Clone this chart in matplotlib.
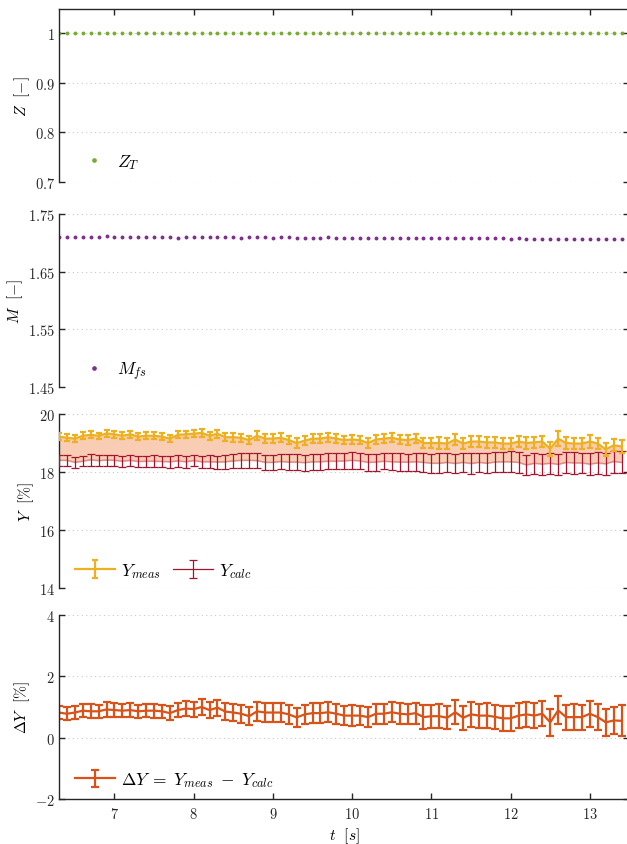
import matplotlib
matplotlib.use("Agg")
import matplotlib.pyplot as plt
import numpy as np

plt.rcParams['mathtext.fontset'] = 'cm'
plt.rcParams['font.family'] = ['cmr10', 'DejaVu Serif']
plt.rcParams['axes.formatter.use_mathtext'] = True

t = [6.3, 6.4, 6.5, 6.6, 6.7, 6.8, 6.9, 7.0, 7.1, 7.2, 7.3, 7.4, 7.5, 7.6, 7.7, 7.8, 7.9, 8.0,
     8.1, 8.2, 8.3, 8.4, 8.5, 8.6, 8.7, 8.8, 8.9, 9.0, 9.1, 9.2, 9.3, 9.4, 9.5, 9.6, 9.7, 9.8,
     9.9, 10.0, 10.1, 10.2, 10.3, 10.4, 10.5, 10.6, 10.7, 10.8, 10.9, 11.0, 11.1, 11.2, 11.3,
     11.4, 11.5, 11.6, 11.7, 11.8, 11.9, 12.0, 12.1, 12.2, 12.3, 12.4, 12.5, 12.6, 12.7, 12.8,
     12.9, 13.0, 13.1, 13.2, 13.3, 13.4]

Z_T = [1.0, 1.0, 1.0, 1.0, 1.0, 1.0, 1.0, 1.0, 1.0, 1.0, 1.0, 1.0, 1.0, 1.0, 1.0, 1.0, 1.0, 1.0,
       1.0, 1.0, 1.0, 1.0, 1.0, 1.0, 1.0, 1.0, 1.0, 1.0, 1.0, 1.0, 1.0, 1.0, 1.0, 1.0, 1.0, 1.0,
       1.0, 1.0, 1.0, 1.0, 1.0, 1.0, 1.0, 1.0, 1.0, 1.0, 1.0, 1.0, 1.0, 1.0, 1.0, 1.0, 1.0, 1.0,
       1.0, 1.0, 1.0, 1.0, 1.0, 1.0, 1.0, 1.0, 1.0, 1.0, 1.0, 1.0, 1.0, 1.0, 1.0, 1.0, 1.0, 1.0]

M_fs = [1.7105, 1.7105, 1.7098, 1.7105, 1.7108, 1.7105, 1.7110, 1.7102, 1.7098, 1.7108, 1.7102,
        1.7100, 1.7105, 1.7100, 1.7102, 1.7092, 1.7095, 1.7098, 1.7098, 1.7098, 1.7095,
        1.7098, 1.7095, 1.7092, 1.7095, 1.7098, 1.7095, 1.7090, 1.7095, 1.7098, 1.7090,
        1.7092, 1.7092, 1.7090, 1.7095, 1.7092, 1.7088, 1.7092, 1.7090, 1.7088, 1.7092,
        1.7088, 1.7085, 1.7090, 1.7088, 1.7085, 1.7088, 1.7082, 1.7085, 1.7088, 1.7082,
        1.7085, 1.7080, 1.7082, 1.7078, 1.7082, 1.7078, 1.7075, 1.7080, 1.7075, 1.7072,
        1.7068, 1.7072, 1.7068, 1.7070, 1.7072, 1.7068, 1.7070, 1.7065, 1.7068, 1.7065, 1.7068]

Y_meas = [19.22, 19.18, 19.15, 19.25, 19.28, 19.25, 19.33, 19.30, 19.25, 19.30, 19.22, 19.25,
          19.25, 19.22, 19.15, 19.28, 19.30, 19.32, 19.35, 19.25, 19.32, 19.20, 19.20, 19.18,
          19.10, 19.25, 19.15, 19.15, 19.18, 19.10, 19.00, 19.08, 19.15, 19.15, 19.20, 19.15,
          19.10, 19.12, 19.10, 19.00, 19.12, 19.15, 19.18, 19.12, 19.10, 19.15, 19.00, 19.00,
          19.00, 18.98, 19.12, 18.98, 19.05, 19.05, 19.02, 19.02, 18.98, 18.98, 19.05, 19.00,
          19.02, 19.05, 18.80, 19.15, 19.00, 18.98, 18.98, 19.05, 18.98, 18.78, 18.92, 18.88]

Y_meas_err = [0.11, 0.12, 0.11, 0.12, 0.12, 0.11, 0.13, 0.12, 0.12, 0.12, 0.11, 0.12, 0.12, 0.12,
              0.12, 0.12, 0.13, 0.13, 0.14, 0.13, 0.14,
              0.14, 0.15, 0.14, 0.15, 0.16, 0.15, 0.15, 0.15, 0.15, 0.16, 0.15, 0.15, 0.15, 0.16,
              0.15, 0.15, 0.16, 0.15, 0.16, 0.15, 0.16, 0.16, 0.15, 0.16, 0.16,
              0.18, 0.18, 0.19, 0.18, 0.20, 0.18, 0.19, 0.19, 0.19, 0.19, 0.20, 0.19, 0.20, 0.20,
              0.20, 0.20, 0.24, 0.26, 0.20, 0.20, 0.20, 0.21, 0.20, 0.22, 0.21, 0.21]

Y_calc = [18.40, 18.40, 18.33, 18.37, 18.42, 18.39, 18.41, 18.40, 18.37, 18.40, 18.36, 18.37,
          18.37, 18.36, 18.35, 18.38, 18.35, 18.39, 18.35, 18.35, 18.34, 18.35, 18.38, 18.40,
          18.40, 18.39, 18.33, 18.33, 18.36, 18.34, 18.34, 18.32, 18.35, 18.35, 18.37, 18.37,
          18.38, 18.40, 18.38, 18.33, 18.34, 18.37, 18.35, 18.34, 18.34, 18.35, 18.33, 18.30,
          18.30, 18.33, 18.29, 18.33, 18.29, 18.33, 18.30, 18.34, 18.35, 18.35, 18.33, 18.24,
          18.30, 18.27, 18.30, 18.26, 18.33, 18.31, 18.31, 18.27, 18.31, 18.28, 18.36, 18.33]

Y_calc_err = [0.18, 0.19, 0.19, 0.18, 0.20, 0.19, 0.19, 0.20, 0.19, 0.20, 0.19, 0.19, 0.20, 0.19,
              0.20, 0.20, 0.21, 0.20, 0.21, 0.22, 0.22,
              0.24, 0.25, 0.26, 0.25, 0.26, 0.27, 0.26, 0.27, 0.27, 0.28, 0.27, 0.28, 0.28, 0.27,
              0.28, 0.28, 0.29, 0.28, 0.29, 0.29, 0.28, 0.29, 0.30, 0.29, 0.30,
              0.33, 0.33, 0.34, 0.33, 0.34, 0.34, 0.35, 0.34, 0.35, 0.35, 0.35, 0.36, 0.35, 0.36,
              0.36, 0.36, 0.37, 0.37, 0.36, 0.37, 0.36, 0.37, 0.37, 0.37, 0.38, 0.38]

dY = [0.82, 0.78, 0.82, 0.88, 0.86, 0.86, 0.92, 0.90, 0.88, 0.90, 0.86, 0.88, 0.88, 0.86, 0.80,
      0.90, 0.95, 0.93, 1.00, 0.90, 0.98, 0.85, 0.82, 0.78, 0.70, 0.86, 0.82, 0.82, 0.82, 0.76,
      0.66, 0.76, 0.80, 0.80, 0.83, 0.78, 0.72, 0.72, 0.72, 0.67, 0.78, 0.78, 0.83, 0.78, 0.76,
      0.80, 0.67, 0.70, 0.70, 0.65, 0.83, 0.65, 0.76, 0.72, 0.72, 0.68, 0.63, 0.63, 0.72, 0.76,
      0.72, 0.78, 0.50, 0.89, 0.67, 0.67, 0.67, 0.78, 0.67, 0.50, 0.56, 0.55]

dY_err = [0.21, 0.22, 0.22, 0.22, 0.23, 0.22, 0.23, 0.23, 0.22, 0.23, 0.22, 0.22, 0.23, 0.22,
          0.23, 0.23, 0.24, 0.24, 0.25, 0.25, 0.26,
          0.28, 0.29, 0.30, 0.29, 0.31, 0.31, 0.30, 0.31, 0.31, 0.32, 0.31, 0.32, 0.32, 0.32,
          0.32, 0.32, 0.33, 0.32, 0.33, 0.33, 0.33, 0.33, 0.34, 0.33, 0.34,
          0.38, 0.38, 0.39, 0.38, 0.40, 0.39, 0.40, 0.39, 0.40, 0.40, 0.40, 0.41, 0.41, 0.41,
          0.41, 0.41, 0.44, 0.46, 0.41, 0.42, 0.41, 0.42, 0.42, 0.44, 0.43, 0.50]

xticks = [7, 8, 9, 10, 11, 12, 13]
z_ticks = [0.7, 0.8, 0.9, 1.0]
z_ticklabels = ['0.7', '0.8', '0.9', '1']
m_ticks = [1.45, 1.55, 1.65, 1.75]
m_ticklabels = ['1.45', '1.55', '1.65', '1.75']
y_ticks = [14, 16, 18, 20]
y_ticklabels = ['14', '16', '18', '20']
d_ticks = [-2, 0, 2, 4]
d_ticklabels = ['-2', '0', '2', '4']

C_Z = '#77AC30'
C_M = '#7E2F8E'
C_YM = '#EDB120'
C_YC = '#A2142F'
C_D = '#D95319'
C_FILL = '#F9CDB4'

W, H = 627, 845
fig = plt.figure(figsize=(W / 100, H / 100), dpi=100)

left = 59 / W
width = (629.5 - 59) / W


def mk(top, bot):
    return fig.add_axes([left, 1 - bot / H, width, (bot - top) / H])


ax1 = mk(10, 183)
ax2 = mk(215, 388)
ax3 = mk(415, 589)
ax4 = mk(616, 800)

TICKFS = 10.4
LEGFS = 12.5
LABFS = 11.2
LABPAD = 2.0

for ax in (ax1, ax2, ax3, ax4):
    ax.set_xlim(6.3, 13.5)
    ax.grid(axis='y', linestyle=(0, (1, 3)), color='#c8c8c8', linewidth=0.8)
    ax.set_axisbelow(True)
    for s in ax.spines.values():
        s.set_visible(False)
    ax.spines['left'].set_visible(True)
    ax.spines['left'].set_linewidth(1.0)
    ax.spines['left'].set_color('#262626')
    ax.tick_params(axis='y', which='both', direction='in', length=4, width=1.0,
                   left=True, right=True, labelsize=TICKFS, pad=3, colors='#262626')
    ax.tick_params(axis='x', direction='in', length=4, width=1.0, colors='#262626',
                   bottom=False, top=False, labelbottom=False, labelsize=TICKFS)
    ax.set_xticks(xticks)

# Panel 1
ax1.spines['top'].set_visible(True)
ax1.spines['top'].set_linewidth(1.0)
ax1.spines['top'].set_color('#262626')
ax1.tick_params(axis='x', top=True)
ax1.set_ylim(0.7, 1.048)
ax1.set_yticks(z_ticks)
ax1.set_yticklabels(['$' + s + '$' for s in z_ticklabels])
ax1.plot(t, Z_T, linestyle='none', marker='o', ms=2.8, mec='none', color=C_Z, label='$Z_T$')
ax1.set_ylabel(r'$Z\ \ [-]$', fontsize=LABFS, labelpad=LABPAD)
ax1.legend(loc='lower left', bbox_to_anchor=(0.01, -0.025), frameon=False, fontsize=LEGFS,
           handlelength=1.6, handletextpad=0.5, markerscale=1.2)

# Panel 2
ax2.set_ylim(1.45, 1.75)
ax2.set_yticks(m_ticks)
ax2.set_yticklabels(['$' + s + '$' for s in m_ticklabels])
ax2.plot(t, M_fs, linestyle='none', marker='o', ms=2.8, mec='none', color=C_M, label='$M_{fs}$')
ax2.set_ylabel(r'$M\ \ [-]$', fontsize=LABFS, labelpad=LABPAD)
ax2.legend(loc='lower left', bbox_to_anchor=(0.01, -0.06), frameon=False, fontsize=LEGFS,
           handlelength=1.6, handletextpad=0.5, markerscale=1.2)

# Panel 3
ax3.set_ylim(14, 20)
ax3.set_yticks(y_ticks)
ax3.set_yticklabels(['$' + s + '$' for s in y_ticklabels])
ax3.fill_between(t, Y_calc, Y_meas, color=C_FILL, linewidth=0, zorder=1)
ax3.plot(t, Y_calc, color=C_YC, alpha=0.35, lw=1.2, zorder=2)
hc = ax3.errorbar(t, Y_calc, yerr=Y_calc_err, fmt='none', ecolor=C_YC, elinewidth=0.9,
                  capsize=2.8, capthick=0.9, zorder=3)
hm = ax3.errorbar(t, Y_meas, yerr=Y_meas_err, color=C_YM, lw=1.6, elinewidth=1.6,
                  capsize=2.4, capthick=1.6, zorder=4)
hc_leg = ax3.errorbar([np.nan], [np.nan], yerr=[0.1], color=C_YC, lw=0.9, elinewidth=0.9,
                      capsize=2.8, capthick=0.9)
ax3.set_ylabel(r'$Y\ \ [\%]$', fontsize=LABFS, labelpad=LABPAD)
ax3.legend([hm, hc_leg], ['$Y_{meas}$', '$Y_{calc}$'], loc='lower left',
           bbox_to_anchor=(0.0, -0.045), frameon=False, fontsize=LEGFS, ncol=2,
           handlelength=2.3, handletextpad=0.35, columnspacing=0.7)

# Panel 4
ax4.spines['bottom'].set_visible(True)
ax4.spines['bottom'].set_linewidth(1.0)
ax4.spines['bottom'].set_color('#262626')
ax4.tick_params(axis='x', bottom=True, labelbottom=True, pad=5)
ax4.set_xticklabels(['$%d$' % v for v in xticks])
ax4.set_ylim(-2, 4)
ax4.set_yticks(d_ticks)
ax4.set_yticklabels(['$' + s + '$' for s in d_ticklabels])
hd = ax4.errorbar(t, dY, yerr=dY_err, color=C_D, lw=1.6, elinewidth=1.6,
                  capsize=2.6, capthick=1.6,
                  label=r'$\Delta Y \;=\; Y_{meas} \;-\; Y_{calc}$')
ax4.set_ylabel(r'$\Delta Y\ \ [\%]$', fontsize=LABFS, labelpad=LABPAD)
ax4.set_xlabel(r'$t\ \ [s]$', fontsize=LABFS, labelpad=3)
ax4.legend(loc='lower left', bbox_to_anchor=(0.0, -0.032), frameon=False, fontsize=LEGFS,
           handlelength=2.3, handletextpad=0.35)

fig.savefig('out.png', dpi=100)
